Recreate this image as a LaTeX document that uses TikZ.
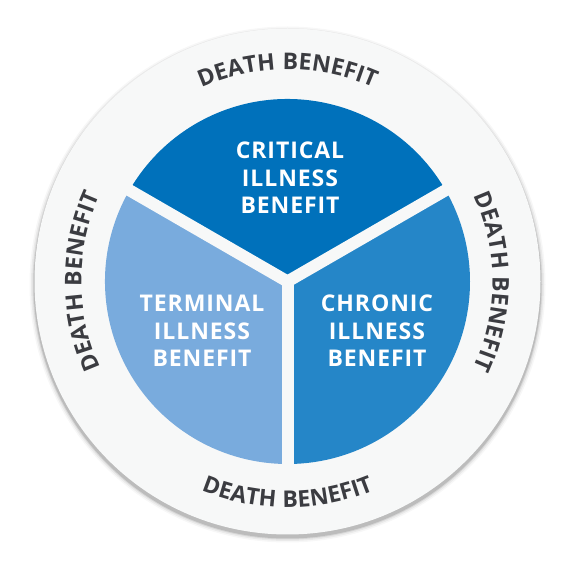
\documentclass[tikz,border=0pt]{standalone}
\usepackage{fontspec}
\setmainfont{Open Sans}
\newfontfamily\piefont[LetterSpace=4]{Open Sans}
\newfontfamily\outerfont[LetterSpace=5]{Open Sans}
\usetikzlibrary{decorations.text,calc}
\definecolor{critblue}{HTML}{0071BB}
\definecolor{chronblue}{HTML}{2586C8}
\definecolor{termblue}{HTML}{79ABDD}
\definecolor{ringfill}{HTML}{F7F8F8}
\definecolor{deathgray}{HTML}{3B3C41}
\tikzset{
  pielabel/.style={text=white, font=\piefont\bfseries\fontsize{23}{27.5}\selectfont, align=center},
  deathtext/.style={decorate, decoration={text along path, text align=center,
      text={|\outerfont\bfseries\fontsize{23}{23}\selectfont\color{deathgray}|DEATH BENEFIT}}},
  gapline/.style={ringfill, line width=12pt}
}
\begin{document}
\begin{tikzpicture}[x=1pt,y=1pt]
\useasboundingbox (0,0) rectangle (574,574);
\fill[white] (0,0) rectangle (574,574);
\coordinate (c) at (287.5,292.5);
\coordinate (sc) at (287.5,289.5);
% outer ring with soft shadow
\foreach \r/\o in {258/0.03,256.5/0.05,255/0.08,254/0.12}
  \fill[black, opacity=\o] (sc) circle[radius=\r];
\fill[ringfill] (c) circle[radius=253];
% pie sectors
\fill[critblue] (c) -- ++(30:182.5) arc[start angle=30, end angle=150, radius=182.5] -- cycle;
\fill[termblue] (c) -- ++(150:182.5) arc[start angle=150, end angle=270, radius=182.5] -- cycle;
\fill[chronblue] (c) -- ++(270:182.5) arc[start angle=270, end angle=390, radius=182.5] -- cycle;
\coordinate (g1) at ($(c)+(30:190)$);
\coordinate (g2) at ($(c)+(150:190)$);
\coordinate (g3) at ($(c)+(270:190)$);
\draw[gapline] (c) -- (g1);
\draw[gapline] (c) -- (g2);
\draw[gapline] (c) -- (g3);
% labels
\node[pielabel] (crit) at (290,396) {CRITICAL\\ILLNESS\\BENEFIT};
\node[pielabel] (term) at (202,243) {TERMINAL\\ILLNESS\\BENEFIT};
\node[pielabel] (chron) at (377,243) {CHRONIC\\ILLNESS\\BENEFIT};
% outer curved texts
\path[deathtext] ($(c)+(135:212)$) arc[start angle=135, end angle=45, radius=212];
\path[deathtext] ($(c)+(45:205)$) arc[start angle=45, end angle=-45, radius=205];
\path[deathtext] ($(c)+(225:206)$) arc[start angle=225, end angle=135, radius=206];
\path[deathtext] ($(c)+(225:226)$) arc[start angle=225, end angle=315, radius=226];
\end{tikzpicture}
\end{document}
